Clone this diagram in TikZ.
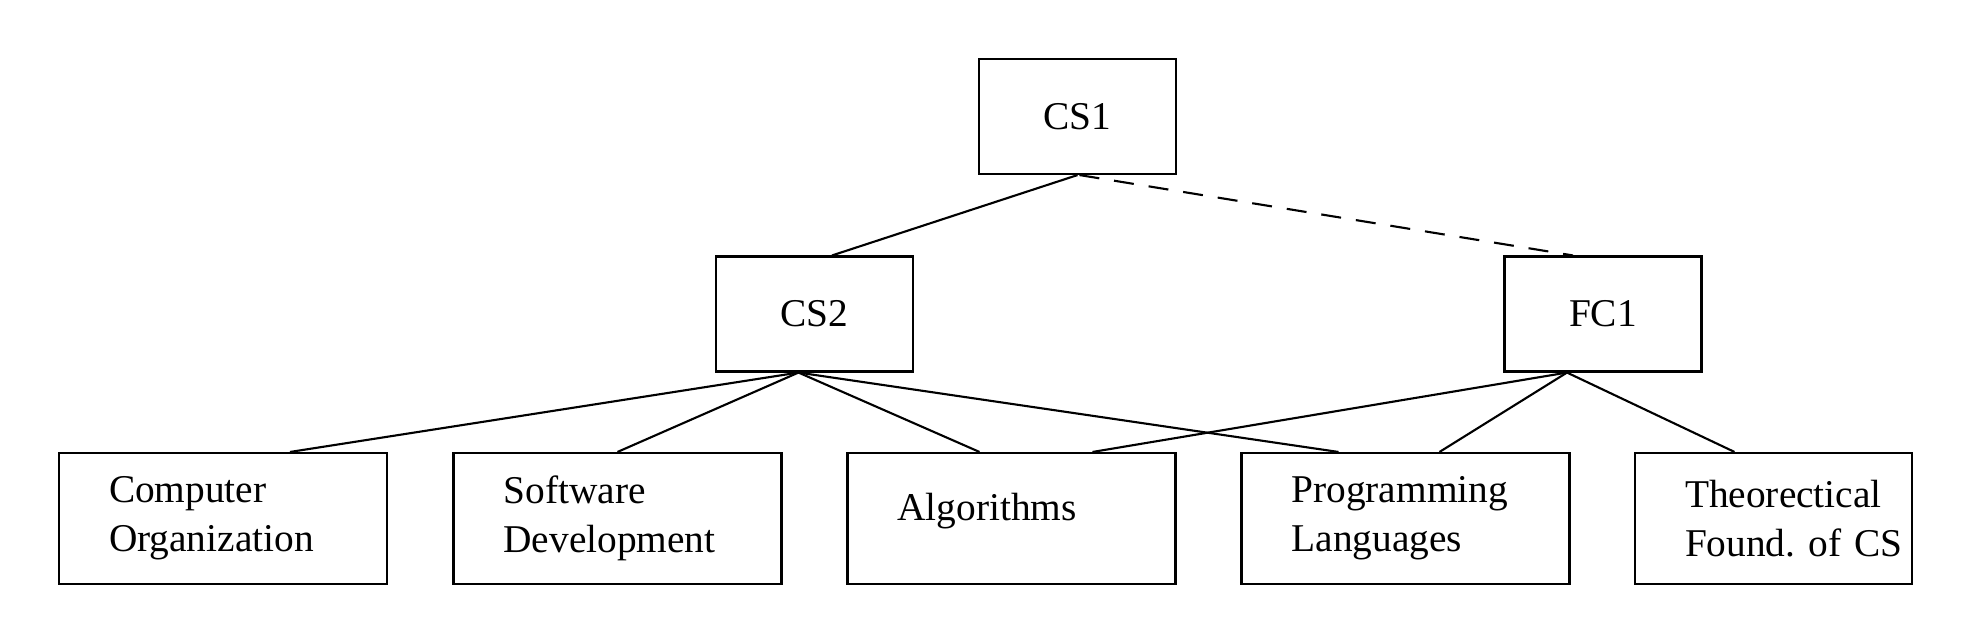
\documentclass[tikz,border=0pt]{standalone}
\usepackage{fontspec}
\setmainfont{Liberation Serif}

\tikzset{
	course/.style={draw, line width=0.6pt, minimum width=1.97cm, minimum height=1.15cm, font=\fontsize{11.2}{14}\selectfont},
	area/.style={draw, line width=0.6pt, minimum height=1.31cm, inner xsep=0.5cm, text width=2.28cm, align=left, font=\fontsize{11.2}{13.9}\selectfont},
	link/.style={line width=0.6pt}
}

\begin{document}
\begin{tikzpicture}
			\useasboundingbox (0,0) rectangle (19.74,-6.40);
			\node[course] (cs1) at (10.775,-1.165){CS1};
			\node[course] (cs2) at (8.145,-3.14){CS2};
			\node[course] (fc1) at (16.03,-3.14){FC1};
			\node[area] (org) at (2.23,-5.185){Computer\\Organization};
			\node[area] (soft) at (6.175,-5.185){Software\\Development};
			\node[area] (algo) at (10.115,-5.185){\raisebox{0.23cm}{Algorithms}};
			\node[area] (lang) at (14.055,-5.185){Programming\\Languages};
			\node[area, text width=1.77cm] (theo) at (17.735,-5.185){Theorectical\\Found.~of~CS};
			\draw[link] (cs1.south) -- ([xshift=0.175cm]cs2.north);
			\draw[link, dash pattern=on 0.2cm off 0.15cm] ([xshift=0.02cm]cs1.south) -- ([xshift=-0.3cm]fc1.north);
			\draw[link] ([xshift=-0.16cm]cs2.south) -- ([xshift=0.67cm]org.north);
			\draw[link] ([xshift=-0.16cm]cs2.south) -- (soft.north);
			\draw[link] ([xshift=-0.16cm]cs2.south) -- ([xshift=-0.32cm]algo.north);
			\draw[link] ([xshift=-0.16cm]cs2.south) -- ([xshift=-0.67cm]lang.north);
			\draw[link] ([xshift=-0.36cm]fc1.south) -- ([xshift=0.81cm]algo.north);
			\draw[link] ([xshift=-0.36cm]fc1.south) -- ([xshift=0.34cm]lang.north);
			\draw[link] ([xshift=-0.36cm]fc1.south) -- ([xshift=-0.39cm]theo.north);
		\end{tikzpicture}
\end{document}
